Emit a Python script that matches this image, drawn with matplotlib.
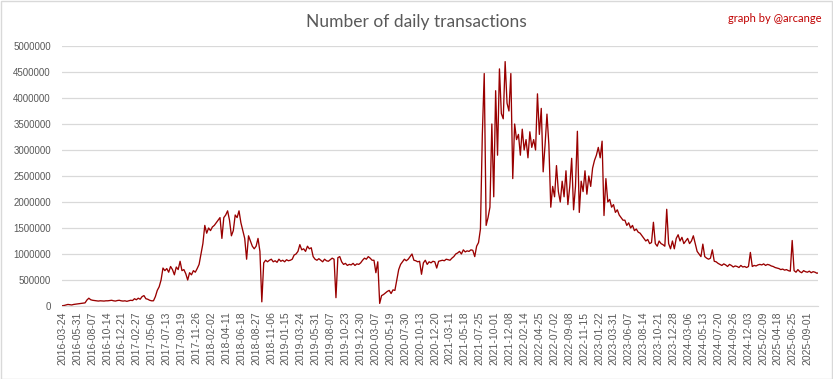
import numpy as np
import matplotlib
matplotlib.use('Agg')
import matplotlib.pyplot as plt
from matplotlib.patches import Rectangle

# tick labels of the category axis (one every 68 entries)
tick_labels = [
    '2016-03-24', '2016-05-31', '2016-08-07', '2016-10-14', '2016-12-21',
    '2017-02-27', '2017-05-06', '2017-07-13', '2017-09-19', '2017-11-26',
    '2018-02-02', '2018-04-11', '2018-06-18', '2018-08-27', '2018-11-06',
    '2019-01-15', '2019-03-24', '2019-05-31', '2019-08-07', '2019-10-23',
    '2019-12-30', '2020-03-07', '2020-05-19', '2020-07-30', '2020-10-13',
    '2020-12-20', '2021-03-11', '2021-05-18', '2021-07-25', '2021-10-01',
    '2021-12-08', '2022-02-14', '2022-04-25', '2022-07-02', '2022-09-08',
    '2022-11-15', '2023-01-22', '2023-03-31', '2023-06-07', '2023-08-14',
    '2023-10-21', '2023-12-28', '2024-03-06', '2024-05-13', '2024-07-20',
    '2024-09-26', '2024-12-03', '2025-02-09', '2025-04-18', '2025-06-25',
    '2025-09-01',
]
label_every = 68

tx_2016_2017 = [
    5, 10, 20, 30, 25, 20, 30, 35,
    40, 45, 50, 55, 60, 115, 150, 120,
    110, 105, 100, 95, 100, 98, 95, 100,
    100, 105, 110, 100, 95, 105, 110, 100,
    95, 100, 90, 100, 110, 105, 140, 120,
    150, 130, 180, 200, 140, 130, 110, 100,
    100, 180, 300, 370, 500, 730, 680, 720,
    650, 760, 700, 600, 750, 700, 860, 680,
    700, 620, 500, 640, 600, 680, 650, 720,
]
tx_2018_2019 = [
    800, 1000, 1200, 1550, 1400, 1500, 1450, 1520,
    1550, 1600, 1650, 1700, 1300, 1700, 1750, 1830,
    1650, 1350, 1450, 1750, 1700, 1830, 1600, 1450,
    1300, 900, 1350, 1250, 1150, 1100, 1150, 1300,
    1050, 80, 830, 880, 850, 880, 900, 850,
    870, 840, 900, 860, 880, 850, 890, 870,
    880, 900, 980, 1000, 1050, 1180, 1080, 1100,
    1050, 1150, 1100, 1120, 950, 900, 880, 910,
    880, 850, 900, 870, 860, 890, 920, 900,
    160, 930, 950, 850, 800, 820, 780, 800,
    790, 820, 780, 810, 800, 830, 880, 920,
]
tx_2020_2021 = [
    900, 950, 920, 880, 880, 640, 850, 50,
    200, 220, 250, 280, 300, 240, 310, 300,
    500, 700, 800, 850, 900, 870, 900, 950,
    1000, 880, 870, 850, 860, 610, 830, 880,
    800, 850, 830, 860, 850, 730, 860, 870,
    880, 870, 900, 890, 880, 920, 950, 1000,
    1020, 1050, 1000, 1080, 1040, 1060, 1050, 1080,
    1070, 950, 1150, 1220, 1480, 3300, 4470, 1550,
    1700, 1900, 3500, 2100, 4140, 2900, 4560, 3700,
    3600, 4700, 3900, 3750, 4470, 2450, 3500, 3200,
    3300, 2900, 3400, 3000, 3200, 2850, 3350, 3050,
]
tx_2022_2023 = [
    3200, 3000, 4080, 3300, 3800, 2580, 3100, 3690,
    3100, 1900, 2300, 2100, 2700, 2200, 2000, 2400,
    2100, 2600, 1950, 2300, 2840, 1850, 2300, 3360,
    1800, 2400, 2200, 2600, 2150, 2500, 2300, 2650,
    2800, 2900, 3050, 2850, 3170, 1740, 2450, 2000,
    2050, 1900, 1950, 1800, 1850, 1750, 1700, 1650,
    1650, 1550, 1600, 1500, 1550, 1450, 1480, 1420,
    1400, 1350, 1300, 1250, 1280, 1200, 1220, 1610,
    1200, 1150, 1250, 1200, 1180, 1150, 1860, 1200,
    1100, 1250, 1100, 1300, 1370, 1250, 1320, 1200,
]
tx_2024_2025 = [
    1250, 1300, 1200, 1250, 1350, 1200, 1050, 1000,
    950, 1190, 950, 920, 900, 920, 1080, 860,
    850, 820, 800, 780, 810, 790, 760, 800,
    780, 750, 770, 760, 740, 780, 750, 760,
    740, 760, 1030, 760, 780, 770, 790, 800,
    790, 810, 780, 800, 790, 770, 760, 740,
    730, 720, 700, 710, 690, 700, 680, 670,
    1260, 680, 650, 700, 660, 640, 680, 660,
    650, 670, 640, 660, 650, 630, 640, 630,
]
sample_step = 8.67  # category entries between two read values

tx = np.array(tx_2016_2017 + tx_2018_2019 + tx_2020_2021 + tx_2022_2023 + tx_2024_2025) * 1000
pos = np.arange(len(tx)) * sample_step

W, H = 833, 379
fig = plt.figure(figsize=(W / 100, H / 100), dpi=100)
ax = fig.add_axes([62 / W, (H - 306) / H, (818 - 62) / W, (306 - 46) / H])

ax.plot(pos, tx, '-', color='#990000', linewidth=0.95)

ax.set_xlim(-1, 3447)
ax.set_ylim(0, 5000000)
ax.set_yticks(np.arange(0, 5000001, 500000))
ax.set_yticklabels([f'{v}' for v in range(0, 5000001, 500000)],
                   fontsize=7, color='#595959', family='Liberation Sans')
ax.set_xticks(np.arange(len(tick_labels)) * label_every)
ax.set_xticklabels(tick_labels, rotation=90, fontsize=7.5, color='#595959',
                   family='Liberation Sans')
ax.tick_params(axis='x', length=0, pad=4)
ax.tick_params(axis='y', length=0, pad=8)
ax.grid(axis='y', color='#d9d9d9', linewidth=0.9)
ax.set_axisbelow(True)
for s in ['top', 'right', 'left']:
    ax.spines[s].set_visible(False)
ax.spines['bottom'].set_color('#d9d9d9')

fig.text(416 / W, 1 - 22 / H, 'Number of daily transactions', ha='center', va='center',
         fontsize=12.5, color='#595959', family='Lato')
fig.text(822 / W, 1 - 18 / H, 'graph by @arcange', ha='right', va='center',
         fontsize=8, color='#c00000', family='Lato')

fig.patches.append(Rectangle((0.5 / W, 0.5 / H), 1 - 1.5 / W, 1 - 1.5 / H,
                             transform=fig.transFigure, fill=False,
                             edgecolor='#d9d9d9', linewidth=1))

fig.savefig('out.png', dpi=100)
